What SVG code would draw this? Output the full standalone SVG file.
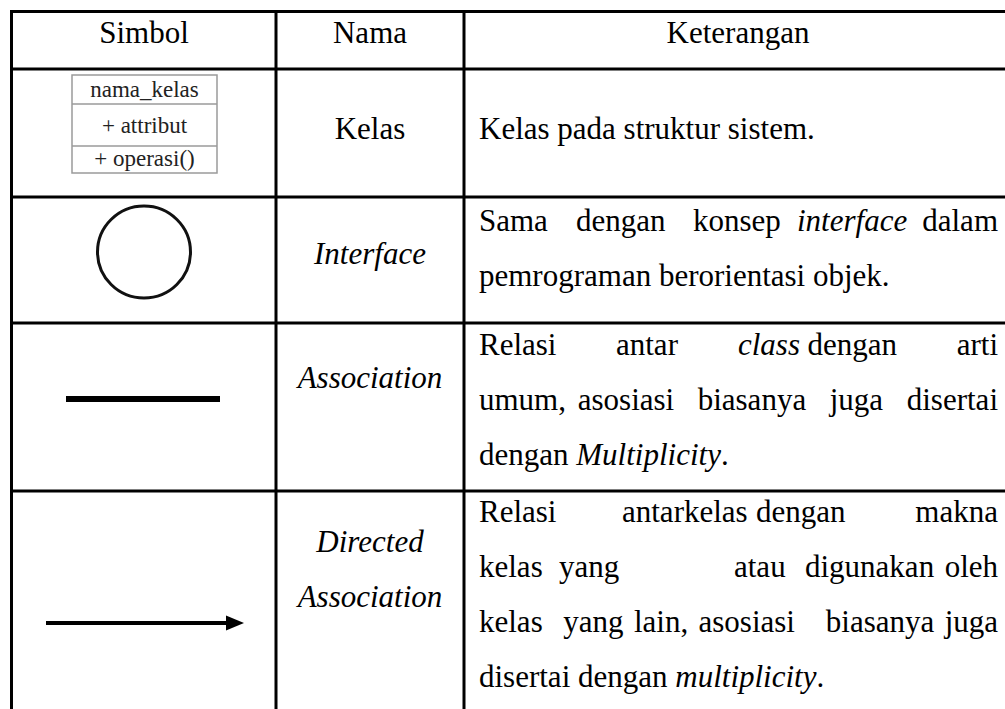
<svg xmlns="http://www.w3.org/2000/svg" width="1005" height="709" viewBox="0 0 1005 709">
<style>
.t{font-family:"Liberation Serif","Times New Roman",serif;font-size:31px;fill:#000}
.i{font-style:italic}
.c{text-anchor:middle}
.e{text-anchor:end}
.grid line{stroke:#000;stroke-width:3}
.box text{font-family:"Liberation Serif","Times New Roman",serif;font-size:23px;fill:#222;text-anchor:middle}
.box rect,.box line{stroke:#9a9a9a;stroke-width:1.5;fill:#fff}
</style>
<rect width="1005" height="709" fill="#fff"/>
<g id="grid" class="grid">
<line x1="10" y1="11.5" x2="1005" y2="11.5"/>
<line x1="10" y1="69" x2="1005" y2="69"/>
<line x1="10" y1="197" x2="1005" y2="197"/>
<line x1="10" y1="323" x2="1005" y2="323"/>
<line x1="10" y1="491" x2="1005" y2="491"/>
<line x1="11.5" y1="10" x2="11.5" y2="709"/>
<line x1="276" y1="10" x2="276" y2="709"/>
<line x1="464" y1="10" x2="464" y2="709"/>
</g>
<g id="header">
<text class="t c" x="144" y="43">Simbol</text>
<text class="t c" x="370" y="43">Nama</text>
<text class="t c" x="738" y="43">Keterangan</text>
</g>
<g id="row-kelas">
<g class="box">
<rect x="72" y="75" width="145" height="98"/>
<line x1="72" y1="104" x2="217" y2="104"/>
<line x1="72" y1="146" x2="217" y2="146"/>
<text x="144.5" y="97">nama_kelas</text>
<text x="144.5" y="133">+ attribut</text>
<text x="144.5" y="166">+ operasi()</text>
</g>
<text class="t c" x="370" y="139">Kelas</text>
<text class="t" x="479" y="139">Kelas pada struktur sistem.</text>
</g>
<g id="row-interface">
<ellipse cx="144" cy="252" rx="46.5" ry="46" fill="none" stroke="#111" stroke-width="3"/>
<text class="t c i" x="370" y="264">Interface</text>
<text class="t" y="231"><tspan x="479">Sama</tspan><tspan x="576">dengan</tspan><tspan x="693">konsep</tspan><tspan x="797" class="i">interface</tspan></text>
<text class="t e" x="998" y="231">dalam</text>
<text class="t" x="479" y="286">pemrograman berorientasi objek.</text>
</g>
<g id="row-association">
<line x1="66" y1="399" x2="220" y2="399" stroke="#000" stroke-width="6"/>
<text class="t c i" x="370" y="388">Association</text>
<text class="t" y="355"><tspan x="479">Relasi</tspan><tspan x="616">antar</tspan><tspan x="738" class="i">class</tspan><tspan x="807.6">dengan</tspan></text>
<text class="t e" x="998" y="355">arti</text>
<text class="t" y="410"><tspan x="479">umum,</tspan><tspan x="577.8">asosiasi</tspan><tspan x="697.7">biasanya</tspan><tspan x="829.7">juga</tspan></text>
<text class="t e" x="998" y="410">disertai</text>
<text class="t" x="479" y="465">dengan <tspan class="i">Multiplicity</tspan>.</text>
</g>
<g id="row-directed-association">
<line x1="46" y1="623" x2="228" y2="623" stroke="#000" stroke-width="4"/>
<polygon points="226,615.5 244,623 226,630.5" fill="#000"/>
<text class="t c i" x="370" y="552">Directed</text>
<text class="t c i" x="370" y="607">Association</text>
<text class="t" y="522"><tspan x="479">Relasi</tspan><tspan x="622">antarkelas</tspan><tspan x="756">dengan</tspan></text>
<text class="t e" x="998" y="522">makna</text>
<text class="t" y="577"><tspan x="479">kelas</tspan><tspan x="559">yang</tspan><tspan x="734">atau</tspan><tspan x="805">digunakan</tspan></text>
<text class="t e" x="998" y="577">oleh</text>
<text class="t" y="632"><tspan x="479">kelas</tspan><tspan x="563.3">yang</tspan><tspan x="633.9">lain,</tspan><tspan x="698.5">asosiasi</tspan><tspan x="825.8">biasanya</tspan></text>
<text class="t e" x="998" y="632">juga</text>
<text class="t" x="479" y="687">disertai dengan <tspan class="i">multiplicity</tspan>.</text>
</g>
</svg>
